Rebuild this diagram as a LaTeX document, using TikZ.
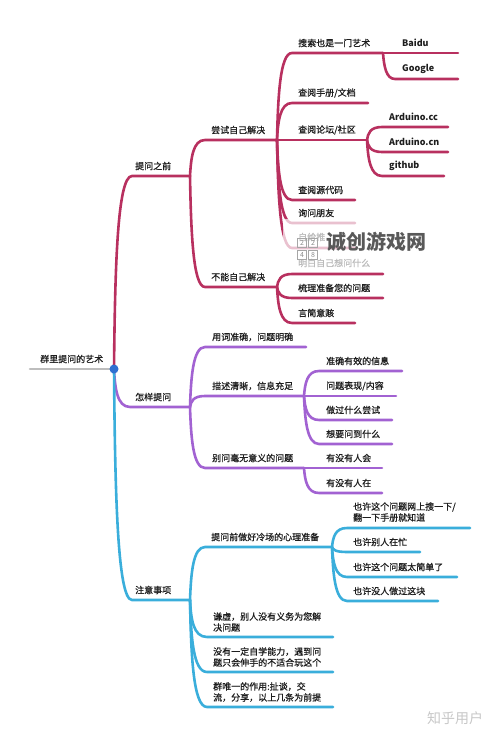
\documentclass[tikz,border=0pt]{standalone}
\usepackage{fontspec}
\setmainfont{Noto Sans CJK SC}
\newfontfamily\medfont{Noto Sans CJK SC}[FakeBold=0.9]
\usetikzlibrary{calc,positioning}

\definecolor{preRed}{HTML}{B8305F}
\definecolor{howPurple}{HTML}{A262D2}
\definecolor{noteBlue}{HTML}{3AAEDB}
\definecolor{rootGrey}{HTML}{BDBDBD}
\definecolor{rootBlue}{HTML}{2F6FD1}
\definecolor{inkGrey}{HTML}{1E1E1E}

\tikzset{
  twig/.style={to path={.. controls ($(\tikztostart)!.5!(\tikztostart |- \tikztotarget)+(1,0)$) and ($(\tikztostart |- \tikztotarget)+(3,0)$) .. (\tikztotarget)}},
  limb/.style={line width=2.6pt, line cap=round},
  pre/.style={limb, draw=preRed},
  how/.style={limb, draw=howPurple},
  note/.style={limb, draw=noteBlue},
  txt/.style={font=\medfont\fontsize{9}{11}\selectfont, text=inkGrey, inner sep=0pt, anchor=west, align=left},
  eng/.style={txt, font=\fontsize{9}{11}\selectfont\bfseries},
  digbox/.style={draw=black!35, text=black!45, font=\fontsize{7}{7}\selectfont, inner sep=0pt, minimum size=9pt},
}

\begin{document}
\begin{tikzpicture}[x=1pt,y=-1pt]
\useasboundingbox (0,0) rectangle (500,738);

% root and main branches
\coordinate (root) at (114,369);
\coordinate (rootL) at (30,369);
\coordinate (pre s) at (132,176);  \coordinate (pre) at (190,176);
\coordinate (how s) at (130,407);  \coordinate (how) at (190,407);
\coordinate (note s) at (132,600); \coordinate (note) at (190,600);
\draw[limb, rootGrey] (rootL) -- (root);
\draw[pre] (root) to[twig] (pre s) -- (pre);
\draw[how] (root) to[twig] (how s) -- (how);
\draw[note] (root) to[twig] (note s) -- (note);
\node[txt] (root t) at (40,359) {群里提问的艺术};
\node[txt] (pre t) at (135,166) {提问之前};
\node[txt] (how t) at (135,397) {怎样提问};
\node[txt] (note t) at (135,590) {注意事项};

% before asking
\foreach \pa/\nm/\xs/\yl/\xe/\dy/\lab in {
  pre/try/205/140/277/10/{尝试自己解决},
  pre/cant/205/287/277/10/{不能自己解决},
  try/search/292/53/383/10/{搜索也是一门艺术},
  try/manual/292/103/368/10/{查阅手册/文档},
  try/forum/292/140/367/10/{查阅论坛/社区},
  try/src/292/200/355/10/{查阅源代码},
  try/friend/292/223/355/10/{询问朋友},
  try/selfgive/292/248/355/11/{自给推},
  cant/clear/292/274/383/11/{明白自己想问什么},
  cant/sort/292/298/383/10/{梳理准备您的问题},
  cant/brief/292/323/355/10/{言简意赅}} {
  \coordinate (\nm s) at (\xs,\yl);
  \coordinate (\nm) at (\xe,\yl);
  \draw[pre] (\pa) to[twig] (\nm s) -- (\nm);
  \node[txt] (\nm t) at (\xs+6,\yl-\dy) {\lab};
}
\foreach \pa/\nm/\xs/\yl/\xe/\lab in {
  search/baidu/395/53/458/{Baidu},
  search/google/395/79/458/{Google},
  forum/acc/382/127/448/{Arduino.cc},
  forum/acn/382/152/448/{Arduino.cn},
  forum/gh/382/176/444/{github}} {
  \coordinate (\nm s) at (\xs,\yl);
  \coordinate (\nm) at (\xe,\yl);
  \draw[pre] (\pa) to[twig] (\nm s) -- (\nm);
  \node[eng] (\nm t) at (\xs+7,\yl-10) {\lab};
}

% how to ask
\foreach \pa/\nm/\xs/\yl/\xe/\lab in {
  how/word/205/347/306/{用词准确，问题明确},
  how/desc/205/396/304/{描述清晰，信息充足},
  how/mean/205/468/304/{别问毫无意义的问题},
  desc/info/319/371/402/{准确有效的信息},
  desc/show/319/396/396/{问题表现/内容},
  desc/tried/319/420/392/{做过什么尝试},
  desc/want/319/444/392/{想要问到什么},
  mean/anyone/319/468/382/{有没有人会},
  mean/anyin/319/493/382/{有没有人在}} {
  \coordinate (\nm s) at (\xs,\yl);
  \coordinate (\nm) at (\xe,\yl);
  \draw[how] (\pa) to[twig] (\nm s) -- (\nm);
  \node[txt] (\nm t) at (\xs+7,\yl-10) {\lab};
}

% things to note
\foreach \pa/\nm/\xs/\yl/\xe/\dy/\lab in {
  note/cold/205/547/332/10/{提问前做好冷场的心理准备},
  note/humble/207/637/333/15/{谦虚，别人没有义务为您解\\决问题},
  note/selflearn/207/672/333/15/{没有一定自学能力，遇到问\\题只会伸手的不适合玩这个},
  note/only/207/707/333/15/{群唯一的作用:扯谈，交\\流，分享，以上几条为前提},
  cold/maybe/347/528/470/16/{也许这个问题网上搜一下/\\翻一下手册就知道},
  cold/busy/347/552/420/10/{也许别人在忙},
  cold/easy/347/577/457/10/{也许这个问题太简单了},
  cold/nobody/347/601/438/10/{也许没人做过这块}} {
  \coordinate (\nm s) at (\xs,\yl);
  \coordinate (\nm) at (\xe,\yl);
  \draw[note] (\pa) to[twig] (\nm s) -- (\nm);
  \node[txt] (\nm t) at (\xs+6,\yl-\dy) {\lab};
}

\fill[rootBlue] (root) circle (4.5pt);

% watermarks
\fill[white, opacity=.7] (283,219) rectangle (440,271);
\node[digbox] (d1) at (302,243) {2};
\node[digbox] (d2) at (313,243) {2};
\node[digbox] (d3) at (302,255) {4};
\node[digbox] (d4) at (313,255) {8};
\node[font=\fontsize{20}{20}\selectfont\bfseries, text=black!65] (mark) at (376,242) {诚创游戏网};
\node[font=\fontsize{14}{14}\selectfont, text=black!22] (zhihu) at (455,718) {知乎用户};
\end{tikzpicture}
\end{document}
